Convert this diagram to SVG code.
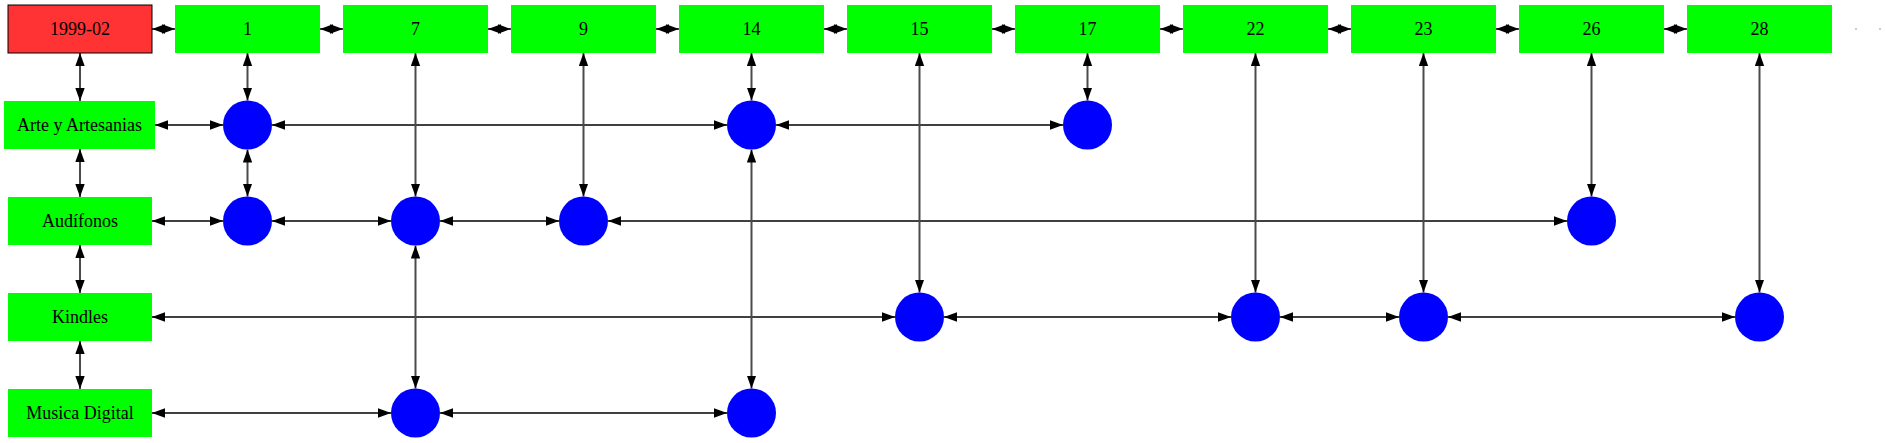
<svg xmlns="http://www.w3.org/2000/svg" width="1885" height="443" viewBox="0 0 1885 443">
<style>
.g{fill:#00ff00;stroke:none}
.r{fill:#ff3333;stroke:#000;stroke-width:1}
.c{fill:#0000ff;stroke:none}
.t{font-family:"Liberation Serif","Times New Roman",serif;font-size:18px;fill:#000;text-anchor:middle;dominant-baseline:central}
.h{stroke:#000;stroke-width:1.4;fill:none;marker-start:url(#ah);marker-end:url(#ah)}
.v{stroke:#4a4a4a;stroke-width:2;fill:none;marker-start:url(#ah);marker-end:url(#ah)}
</style>
<defs>
<marker id="ah" viewBox="0 0 13 10" refX="13" refY="5" markerWidth="13" markerHeight="10" markerUnits="userSpaceOnUse" orient="auto-start-reverse"><path d="M0,0.3 L13,5 L0,9.7 z" fill="#000"/></marker>
</defs>
<rect width="1885" height="443" fill="#fff"/>
<g id="connectors">
<!-- top row -->
<path class="h" d="M152,29H175"/>
<path class="h" d="M320,29H343"/>
<path class="h" d="M488,29H511"/>
<path class="h" d="M656,29H679"/>
<path class="h" d="M824,29H847"/>
<path class="h" d="M992,29H1015"/>
<path class="h" d="M1160,29H1183"/>
<path class="h" d="M1328,29H1351"/>
<path class="h" d="M1496,29H1519"/>
<path class="h" d="M1664,29H1687"/>
<rect x="1855" y="28.5" width="2" height="1" fill="#999"/>
<rect x="1879" y="28.5" width="2" height="1" fill="#999"/>
<!-- row 1 -->
<path class="h" d="M155,125H223"/>
<path class="h" d="M272,125H727"/>
<path class="h" d="M776,125H1063"/>
<!-- row 2 -->
<path class="h" d="M152,221H223"/>
<path class="h" d="M272,221H391"/>
<path class="h" d="M440,221H559"/>
<path class="h" d="M608,221H1567"/>
<!-- row 3 -->
<path class="h" d="M152,317H895"/>
<path class="h" d="M944,317H1231"/>
<path class="h" d="M1280,317H1399"/>
<path class="h" d="M1448,317H1735"/>
<!-- row 4 -->
<path class="h" d="M152,413H391"/>
<path class="h" d="M440,413H727"/>
<!-- label column -->
<path class="v" d="M80,53V101"/>
<path class="v" d="M80,149V197"/>
<path class="v" d="M80,245V293"/>
<path class="v" d="M80,341V389"/>
<!-- columns -->
<path class="v" d="M247.5,53V100.5"/>
<path class="v" d="M247.5,149.5V196.5"/>
<path class="v" d="M415.5,53V196.5"/>
<path class="v" d="M415.5,245.5V388.5"/>
<path class="v" d="M583.5,53V196.5"/>
<path class="v" d="M751.5,53V100.5"/>
<path class="v" d="M751.5,149.5V388.5"/>
<path class="v" d="M919.5,53V292.5"/>
<path class="v" d="M1087.5,53V100.5"/>
<path class="v" d="M1255.5,53V292.5"/>
<path class="v" d="M1423.5,53V292.5"/>
<path class="v" d="M1591.5,53V196.5"/>
<path class="v" d="M1759.5,53V292.5"/>
</g>
<g id="n-1999-02"><rect class="r" x="8" y="5" width="144" height="48"/><text class="t" x="80" y="29">1999-02</text></g>
<g id="n-1"><rect class="g" x="175" y="5" width="145" height="48"/><text class="t" x="247.5" y="29">1</text></g>
<g id="n-7"><rect class="g" x="343" y="5" width="145" height="48"/><text class="t" x="415.5" y="29">7</text></g>
<g id="n-9"><rect class="g" x="511" y="5" width="145" height="48"/><text class="t" x="583.5" y="29">9</text></g>
<g id="n-14"><rect class="g" x="679" y="5" width="145" height="48"/><text class="t" x="751.5" y="29">14</text></g>
<g id="n-15"><rect class="g" x="847" y="5" width="145" height="48"/><text class="t" x="919.5" y="29">15</text></g>
<g id="n-17"><rect class="g" x="1015" y="5" width="145" height="48"/><text class="t" x="1087.5" y="29">17</text></g>
<g id="n-22"><rect class="g" x="1183" y="5" width="145" height="48"/><text class="t" x="1255.5" y="29">22</text></g>
<g id="n-23"><rect class="g" x="1351" y="5" width="145" height="48"/><text class="t" x="1423.5" y="29">23</text></g>
<g id="n-26"><rect class="g" x="1519" y="5" width="145" height="48"/><text class="t" x="1591.5" y="29">26</text></g>
<g id="n-28"><rect class="g" x="1687" y="5" width="145" height="48"/><text class="t" x="1759.5" y="29">28</text></g>
<g id="n-arte"><rect class="g" x="4" y="101" width="151" height="48"/><text class="t" x="79.5" y="125">Arte y Artesanias</text></g>
<g id="n-audifonos"><rect class="g" x="8" y="197" width="144" height="48"/><text class="t" x="80" y="221">Audífonos</text></g>
<g id="n-kindles"><rect class="g" x="8" y="293" width="144" height="48"/><text class="t" x="80" y="317">Kindles</text></g>
<g id="n-musica"><rect class="g" x="8" y="389" width="144" height="48"/><text class="t" x="80" y="413">Musica Digital</text></g>
<g id="p-arte-1"><circle class="c" cx="247.5" cy="125" r="24.5"/></g>
<g id="p-arte-14"><circle class="c" cx="751.5" cy="125" r="24.5"/></g>
<g id="p-arte-17"><circle class="c" cx="1087.5" cy="125" r="24.5"/></g>
<g id="p-aud-1"><circle class="c" cx="247.5" cy="221" r="24.5"/></g>
<g id="p-aud-7"><circle class="c" cx="415.5" cy="221" r="24.5"/></g>
<g id="p-aud-9"><circle class="c" cx="583.5" cy="221" r="24.5"/></g>
<g id="p-aud-26"><circle class="c" cx="1591.5" cy="221" r="24.5"/></g>
<g id="p-kin-15"><circle class="c" cx="919.5" cy="317" r="24.5"/></g>
<g id="p-kin-22"><circle class="c" cx="1255.5" cy="317" r="24.5"/></g>
<g id="p-kin-23"><circle class="c" cx="1423.5" cy="317" r="24.5"/></g>
<g id="p-kin-28"><circle class="c" cx="1759.5" cy="317" r="24.5"/></g>
<g id="p-mus-7"><circle class="c" cx="415.5" cy="413" r="24.5"/></g>
<g id="p-mus-14"><circle class="c" cx="751.5" cy="413" r="24.5"/></g>
</svg>
